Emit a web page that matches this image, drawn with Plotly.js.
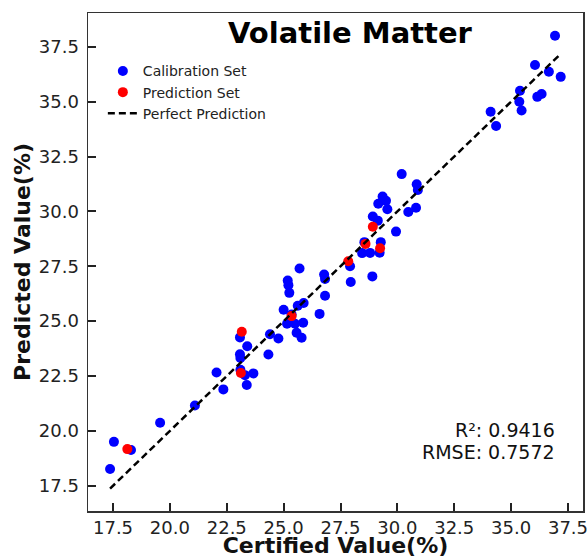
<!DOCTYPE html>
<html>
<head>
<meta charset="utf-8">
<script src="https://cdn.plot.ly/plotly-3.0.1.min.js"></script>
<style>
  html, body { margin: 0; padding: 0; background: #fff; }
  #chart { width: 588px; height: 558px; }
</style>
</head>
<body>
<div id="chart"></div>
<script>
// Calibration set (certified, predicted)
const calX = [17.37, 17.54, 18.29, 19.57, 21.10, 22.05, 22.35, 23.08, 23.40, 23.08, 23.10, 23.30, 23.67, 23.38,
  24.33, 24.40, 24.77, 25.00, 25.15, 25.50, 25.86, 25.57, 25.79, 25.62, 25.88, 25.18, 25.21, 25.25, 25.70,
  26.58, 26.82, 26.78, 26.82, 27.92, 27.95, 28.45, 28.80, 29.22, 28.55, 29.27, 28.90, 28.92, 29.14, 29.16,
  29.35, 29.50, 29.56, 29.94, 30.19, 30.48, 30.82, 30.85, 30.90, 34.10, 34.34, 35.39, 35.36, 35.46, 36.15,
  36.34, 36.05, 36.66, 37.18, 36.93, 23.10, 25.35];
const calY = [18.26, 19.50, 19.13, 20.37, 21.16, 22.66, 21.89, 24.26, 23.86, 23.49, 23.32, 22.54, 22.62, 22.09,
  23.48, 24.40, 24.21, 25.52, 24.88, 24.88, 24.93, 24.47, 24.24, 25.70, 25.83, 26.85, 26.64, 26.29, 27.40,
  25.33, 26.16, 27.12, 26.92, 27.50, 26.78, 28.10, 28.11, 28.12, 28.60, 28.60, 27.04, 29.77, 29.58, 30.35,
  30.68, 30.48, 30.10, 29.08, 31.70, 29.97, 30.17, 31.24, 30.98, 34.54, 33.89, 35.50, 35.00, 34.60, 35.22,
  35.35, 36.67, 36.36, 36.13, 38.00, 22.78, 25.30];
// Prediction set
const predX = [18.13, 23.12, 23.16, 25.35, 27.84, 28.60, 29.24, 28.92];
const predY = [19.17, 22.64, 24.52, 25.23, 27.73, 28.52, 28.32, 29.30];
// Tick labels
const tickVals = [17.5, 20.0, 22.5, 25.0, 27.5, 30.0, 32.5, 35.0, 37.5];
const tickText = ["17.5", "20.0", "22.5", "25.0", "27.5", "30.0", "32.5", "35.0", "37.5"];
// Metrics
const r2 = "0.9416";
const rmse = "0.7572";

const allX = calX.concat(predX);
const lineMin = Math.min(...allX);
const lineMax = 37.1;
const lineXY = [lineMin, lineMax];

const FONT = "DejaVu Sans, Liberation Sans, sans-serif";

const traces = [
  { type: "scatter", mode: "markers", x: calX, y: calY, name: "Calibration Set",
    marker: { color: "#0000ff", size: 10, line: { width: 0 } } },
  { type: "scatter", mode: "markers", x: predX, y: predY, name: "Prediction Set",
    marker: { color: "#ff0000", size: 10, line: { width: 0 } } },
  { type: "scatter", mode: "lines", x: lineXY, y: lineXY, name: "Perfect Prediction",
    line: { color: "#000000", width: 2.5, dash: "7px,4px" } }
];

const axisCommon = {
  tickmode: "array", tickvals: tickVals, ticktext: tickText,
  ticks: "inside", ticklen: 8, tickwidth: 2, tickcolor: "#222",
  showline: true, linecolor: "#333", linewidth: 1.5, mirror: true,
  showgrid: false, zeroline: false,
  ticklabeloverflow: "allow",
  tickfont: { family: FONT, size: 18, color: "#222" }
};

const layout = {
  width: 588, height: 558,
  margin: { l: 88, r: 5, t: 13, b: 47 },
  paper_bgcolor: "#fff", plot_bgcolor: "#fff",
  showlegend: true,
  xaxis: Object.assign({}, axisCommon, {
    range: [16.40, 38.16],
    ticklabelstandoff: 0,
    title: { text: "Certified Value(%)", font: { family: FONT, size: 22, color: "#111", weight: "bold" }, standoff: 7 }
  }),
  yaxis: Object.assign({}, axisCommon, {
    range: [16.35, 39.04],
    ticklabelstandoff: 4,
    title: { text: "Predicted Value(%)", font: { family: FONT, size: 22, color: "#111", weight: "bold" }, standoff: 2 }
  }),
  legend: {
    x: 0.03, y: 0.915, xanchor: "left", yanchor: "top",
    bgcolor: "rgba(0,0,0,0)", borderwidth: 0,
    font: { family: FONT, size: 14, color: "#222" },
    itemwidth: 30
  },
  annotations: [
    { xref: "paper", yref: "paper", x: 0.531, y: 0.96, xanchor: "center", yanchor: "middle",
      text: "<b>Volatile Matter</b>", showarrow: false,
      font: { family: FONT, size: 29, color: "#000" } },
    { xref: "paper", yref: "paper", x: 0.948, y: 0.162, xanchor: "right", yanchor: "middle",
      text: "R²: " + r2, showarrow: false,
      font: { family: FONT, size: 19, color: "#111" } },
    { xref: "paper", yref: "paper", x: 0.948, y: 0.119, xanchor: "right", yanchor: "middle",
      text: "RMSE: " + rmse, showarrow: false,
      font: { family: FONT, size: 19, color: "#111" } }
  ]
};

Plotly.newPlot("chart", traces, layout, { displayModeBar: false, staticPlot: true });
</script>
</body>
</html>
